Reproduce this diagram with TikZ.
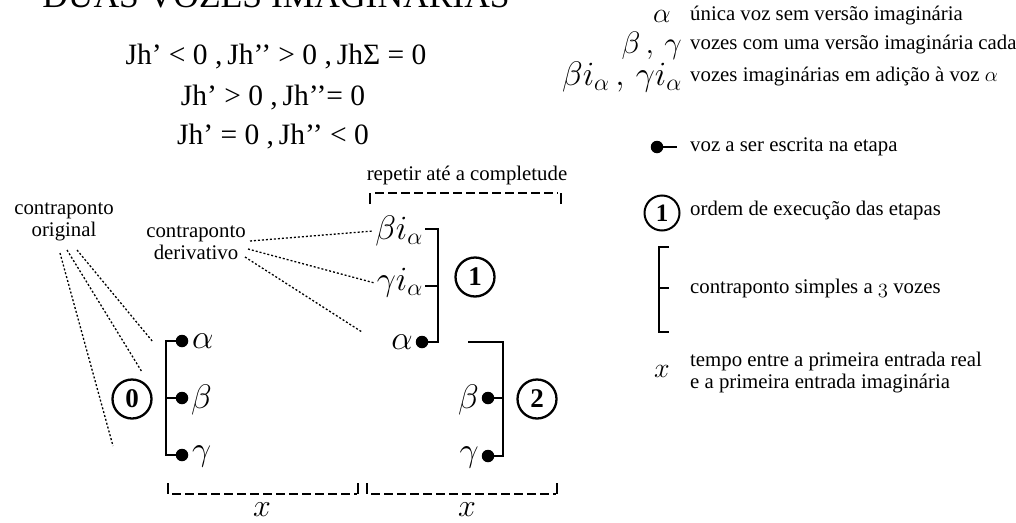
\RequirePackage{fix-cm}
\documentclass[tikz,border=0pt]{standalone}
\usepackage{fontspec}
\setmainfont{Liberation Serif}
\begin{document}
\begin{tikzpicture}[x=1pt,y=-1pt,
  txt/.style={inner sep=0pt, font=\fontsize{20.8}{22}\selectfont},
  grk/.style={inner sep=0pt, font=\fontsize{34}{38}\selectfont},
  eq/.style={inner sep=0pt, anchor=base, font=\fontsize{29.5}{31}\selectfont},
  brk/.style={line width=2.5pt},
  dotn/.style={circle, fill=black, inner sep=0pt, minimum size=12.5pt},
  num/.style={circle, draw, line width=2.3pt, minimum size=39pt, inner sep=0pt, font=\fontsize{27}{27}\selectfont\bfseries},
  dotl/.style={line width=1.3pt, dash pattern=on 2pt off 2pt},
  dashl/.style={line width=2pt, dash pattern=on 9pt off 4pt},
]
\useasboundingbox (0,0) rectangle (1016,522);

% title and equations
\node[inner sep=0pt, anchor=base, font=\fontsize{35.5}{38}\selectfont] (title) at (276,8) {DUAS VOZES IMAGINÁRIAS};
\node[eq] (eq1) at (276,64) {Jh’ < 0 ,\,Jh’’ > 0 ,\,JhΣ = 0};
\node[eq] (eq2) at (273,105) {Jh’ > 0 ,\,Jh’’= 0};
\node[eq] (eq3) at (273,144) {Jh’ = 0 ,\,Jh’’ < 0};

% original counterpoint (step 0)
\node[txt, align=center] (orig) at (64,222) {contraponto\\original};
\node[dotn] (a0) at (182,341) {};
\node[dotn] (b0) at (182,398) {};
\node[dotn] (g0) at (182,455) {};
\coordinate (a0c) at (166,341);
\coordinate (b0c) at (166,398);
\coordinate (g0c) at (166,455);
\draw[brk] (a0.center) -- (a0c) -- (g0c) -- (g0.center);
\draw[brk] (b0c) -- (b0.center);
\node[grk, anchor=west] (la0) at (192,341) {$\alpha$};
\node[grk, anchor=west] (lb0) at (191,400) {$\beta$};
\node[grk, anchor=west] (lg0) at (192,456) {$\gamma$};
\node[num] (n0) at (132,399) {0};

\coordinate (o1) at (60,253);
\coordinate (o2) at (67,250);
\coordinate (o3) at (77,250);
\coordinate (e1) at (113,446);
\coordinate (e2) at (142,372);
\coordinate (e3) at (153,342);
\draw[dotl] (o1) -- (e1);
\draw[dotl] (o2) -- (e2);
\draw[dotl] (o3) -- (e3);

% derivative counterpoint (step 1)
\node[txt, align=center] (deriv) at (196,243) {contraponto\\derivativo};
\node[dotn] (a1) at (422,342) {};
\node[grk, anchor=east] (la1) at (413,342) {$\alpha$};
\node[grk, anchor=east] (bi) at (423,231) {$\beta i_\alpha$};
\node[grk, anchor=east] (gi) at (423,283) {$\gamma i_\alpha$};
\coordinate (t1a) at (425,229);
\coordinate (t1b) at (438,229);
\coordinate (m1a) at (425,286);
\coordinate (m1b) at (438,286);
\coordinate (b1) at (438,342);
\draw[brk] (t1a) -- (t1b) -- (b1) -- (a1.center);
\draw[brk] (m1a) -- (m1b);
\node[num] (n1) at (475,277) {1};

\coordinate (d1) at (250,241);
\coordinate (d2) at (248,249);
\coordinate (d3) at (245,257);
\draw[dotl] (d1) -- ([xshift=-2pt]bi.west);
\draw[dotl] (d2) -- ([xshift=-2pt]gi.west);
\coordinate (d3e) at (362,332);
\draw[dotl] (d3) -- (d3e);

% repeat bracket
\node[txt] (rep) at (467,175) {repetir até a completude};
\coordinate (r1) at (370,193);
\coordinate (r2) at (561,193);
\coordinate (r1t) at (370,204);
\coordinate (r2t) at (561,204);
\draw[line width=2pt] (r1t) -- (r1);
\draw[line width=2pt] (r2t) -- (r2);
\draw[dashl] ([xshift=5pt]r1) -- ([xshift=-3pt]r2);

% step 2
\node[dotn] (b2) at (488,398) {};
\node[dotn] (g2) at (488,456) {};
\coordinate (t2a) at (468,342);
\coordinate (t2b) at (503,342);
\coordinate (m2) at (503,398);
\coordinate (bt2) at (503,456);
\draw[brk] (t2a) -- (t2b) -- (bt2) -- (g2.center);
\draw[brk] (m2) -- (b2.center);
\node[grk, anchor=east] (lb2) at (479,400) {$\beta$};
\node[grk, anchor=east] (lg2) at (479,457) {$\gamma$};
\node[num] (n2) at (537,399) {2};

% bottom x brackets
\coordinate (x1a) at (168,483);
\coordinate (x1b) at (168,494);
\coordinate (x1c) at (358,494);
\coordinate (x1d) at (358,483);
\coordinate (x2a) at (367,483);
\coordinate (x2b) at (367,494);
\coordinate (x2c) at (557,494);
\coordinate (x2d) at (557,483);
\draw[line width=2pt] (x1a) -- (x1b);
\draw[line width=2pt] (x1d) -- (x1c);
\draw[line width=2pt] (x2a) -- (x2b);
\draw[line width=2pt] (x2d) -- (x2c);
\draw[dashl] ([xshift=4pt]x1b) -- ([xshift=-1pt]x1c);
\draw[dashl] ([xshift=4pt]x2b) -- ([xshift=-1pt]x2c);
\node[inner sep=0pt, anchor=base, font=\fontsize{32}{34}\selectfont] (xl1) at (262,516) {$x$};
\node[inner sep=0pt, anchor=base, font=\fontsize{32}{34}\selectfont] (xl2) at (467,516) {$x$};

% legend
\node[inner sep=0pt, font=\fontsize{28}{30}\selectfont] (Lalpha) at (662,16) {$\alpha$};
\node[txt, anchor=west] (Talpha) at (690,16) {única voz sem versão imaginária};
\node[inner sep=0pt, anchor=east, font=\fontsize{31}{34}\selectfont] (Lbg) at (682,46) {$\beta\,,\,\gamma$};
\node[txt, anchor=west] (Tbg) at (690,45) {vozes com uma versão imaginária cada};
\node[inner sep=0pt, anchor=east, font=\fontsize{34}{36}\selectfont] (Lbi) at (682,77) {$\beta i_\alpha\,,\,\gamma i_\alpha$};
\node[txt, anchor=west] (Tbi) at (690,77) {vozes imaginárias em adição à voz $\alpha$};
\node[dotn] (Ldot) at (657,147) {};
\coordinate (Ldote) at (677,147);
\draw[line width=2.5pt] (Ldot.center) -- (Ldote);
\node[txt, anchor=west] (Tdot) at (690,147) {voz a ser escrita na etapa};
\node[circle, draw, line width=2pt, minimum size=35pt, inner sep=0pt, font=\fontsize{25}{25}\selectfont\bfseries] (Lnum) at (662,213) {1};
\node[txt, anchor=west] (Tnum) at (690,210) {ordem de execução das etapas};
\coordinate (Lb1) at (669,247);
\coordinate (Lb2) at (659,247);
\coordinate (Lb3) at (659,332);
\coordinate (Lb4) at (669,332);
\coordinate (Lbm1) at (659,288);
\coordinate (Lbm2) at (669,288);
\draw[line width=2pt] (Lb1) -- (Lb2) -- (Lb3) -- (Lb4);
\draw[line width=2pt] (Lbm1) -- (Lbm2);
\node[txt, anchor=west] (Tbr) at (690,288) {contraponto simples a $\mathnormal{3}$ vozes};
\node[inner sep=0pt, font=\fontsize{28}{30}\selectfont] (Lx) at (662,371) {$x$};
\node[txt, anchor=north west, align=left] (Tx) at (690,352) {tempo entre a primeira entrada real\\e a primeira entrada imaginária};
\end{tikzpicture}
\end{document}
